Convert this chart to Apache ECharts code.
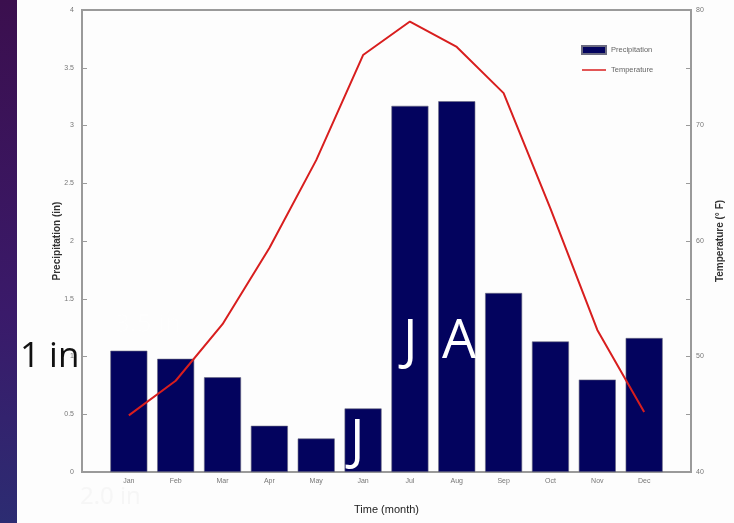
<!DOCTYPE html>
<html><head><meta charset="utf-8">
<script src="https://cdn.jsdelivr.net/npm/echarts@6/dist/echarts.min.js"></script>
<style>
html,body{margin:0;padding:0;background:#fdfdfd;}
#strip{position:absolute;left:0;top:0;width:17px;height:523px;background:linear-gradient(#3b0f4e,#3a1a6a 60%,#2c2c72);}
#c{position:absolute;left:0;top:0;width:734px;height:523px;}
</style></head>
<body><div id="strip"></div><div id="c"></div>
<script>
const categories = ['Jan','Feb','Mar','Apr','May','Jan','Jul','Aug','Sep','Oct','Nov','Dec'];
const precipitation = [1.05, 0.98, 0.82, 0.40, 0.29, 0.55, 3.17, 3.21, 1.55, 1.13, 0.80, 1.16];
const temperature = [44.9, 47.9, 52.8, 59.4, 67.0, 76.1, 79.0, 76.8, 72.8, 62.8, 52.3, 45.2];
const precipTicks = {min:0, max:4, interval:0.5};
const tempTicks = {min:40, max:80, interval:5};

const chart = echarts.init(document.getElementById('c'), null, {renderer:'canvas'});
const axisLabelStyle = {fontSize:7, color:'#777', fontFamily:'Liberation Sans'};
chart.setOption({
  animation:false,
  backgroundColor:'transparent',
  grid:{left:82, right:43, top:10, bottom:51, show:true, borderColor:'#9a9a9a', borderWidth:2},
  legend:{
    left:576, top:40, orient:'vertical', itemGap:11, itemWidth:24, itemHeight:8,
    textStyle:{fontSize:7.5, color:'#666', fontFamily:'Liberation Sans'},
    data:[{name:'Precipitation', icon:'rect'},{name:'Temperature', icon:'path://M0,0 L48,0 L48,3 L0,3 Z'}]
  },
  xAxis:{
    type:'value', min:0, max:13, interval:1,
    axisLine:{show:true, lineStyle:{color:'#9a9a9a', width:2}},
    axisTick:{show:false},
    splitLine:{show:false},
    axisLabel:Object.assign({}, axisLabelStyle, {margin:6, formatter:v => (v>=1 && v<=12) ? categories[v-1] : ''}),
    name:'Time (month)', nameLocation:'middle', nameGap:32, nameMoveOverlap:false,
    nameTextStyle:{fontSize:11, color:'#222', fontFamily:'Liberation Sans'}
  },
  yAxis:[{
    type:'value', min:precipTicks.min, max:precipTicks.max, interval:precipTicks.interval,
    axisLine:{show:true, lineStyle:{color:'#9a9a9a', width:2}},
    axisTick:{show:true, inside:true, length:5, lineStyle:{color:'#9a9a9a'}},
    splitLine:{show:false},
    axisLabel:Object.assign({}, axisLabelStyle, {margin:8}),
    name:'Precipitation (in)', nameLocation:'middle', nameGap:20, nameRotate:90, nameMoveOverlap:false,
    nameTextStyle:{fontSize:10, color:'#333', fontWeight:'bold', fontFamily:'Liberation Sans'}
  },{
    type:'value', min:tempTicks.min, max:tempTicks.max, interval:tempTicks.interval,
    axisLine:{show:true, lineStyle:{color:'#9a9a9a', width:2}},
    axisTick:{show:true, inside:true, length:5, lineStyle:{color:'#9a9a9a'}},
    splitLine:{show:false},
    axisLabel:Object.assign({}, axisLabelStyle, {margin:5, formatter:v => (v % 10 === 0) ? String(v) : ''}),
    name:'Temperature (° F)', nameLocation:'middle', nameGap:24, nameRotate:90, nameMoveOverlap:false,
    nameTextStyle:{fontSize:10, color:'#333', fontWeight:'bold', fontFamily:'Liberation Sans'}
  }],
  series:[{
    name:'Precipitation', type:'bar', yAxisIndex:0, barWidth:37,
    itemStyle:{color:'#03035e', borderColor:'#6a6a80', borderWidth:0.6},
    data:precipitation.map((v,i)=>[i+1, v])
  },{
    name:'Temperature', type:'line', yAxisIndex:1, symbol:'none',
    lineStyle:{color:'#d81e1e', width:2},
    itemStyle:{color:'#d81e1e'},
    data:temperature.map((v,i)=>[i+1, v])
  }],
  graphic:[
    {type:'text', z:100, left:20, top:340, style:{text:'1 in', fontSize:35, fill:'#111', fontFamily:'Open Sans'}},
    {type:'text', z:100, left:350, top:416, style:{text:'J', fontSize:54, fill:'#ffffff', fontFamily:'Open Sans'}},
    {type:'text', z:100, left:403, top:316, style:{text:'J', fontSize:54, fill:'#ffffff', fontFamily:'Open Sans'}},
    {type:'text', z:100, left:442, top:316, style:{text:'A', fontSize:54, fill:'#ffffff', fontFamily:'Open Sans'}},
    {type:'text', z:100, left:115, top:312, style:{text:'3.5 in', fontSize:26, fill:'rgba(255,255,255,0.35)', fontFamily:'Open Sans'}},
    {type:'text', z:100, left:80, top:485, style:{text:'2.0 in', fontSize:24, fill:'rgba(240,240,240,0.5)', fontFamily:'Open Sans'}}
  ]
});
</script></body></html>
